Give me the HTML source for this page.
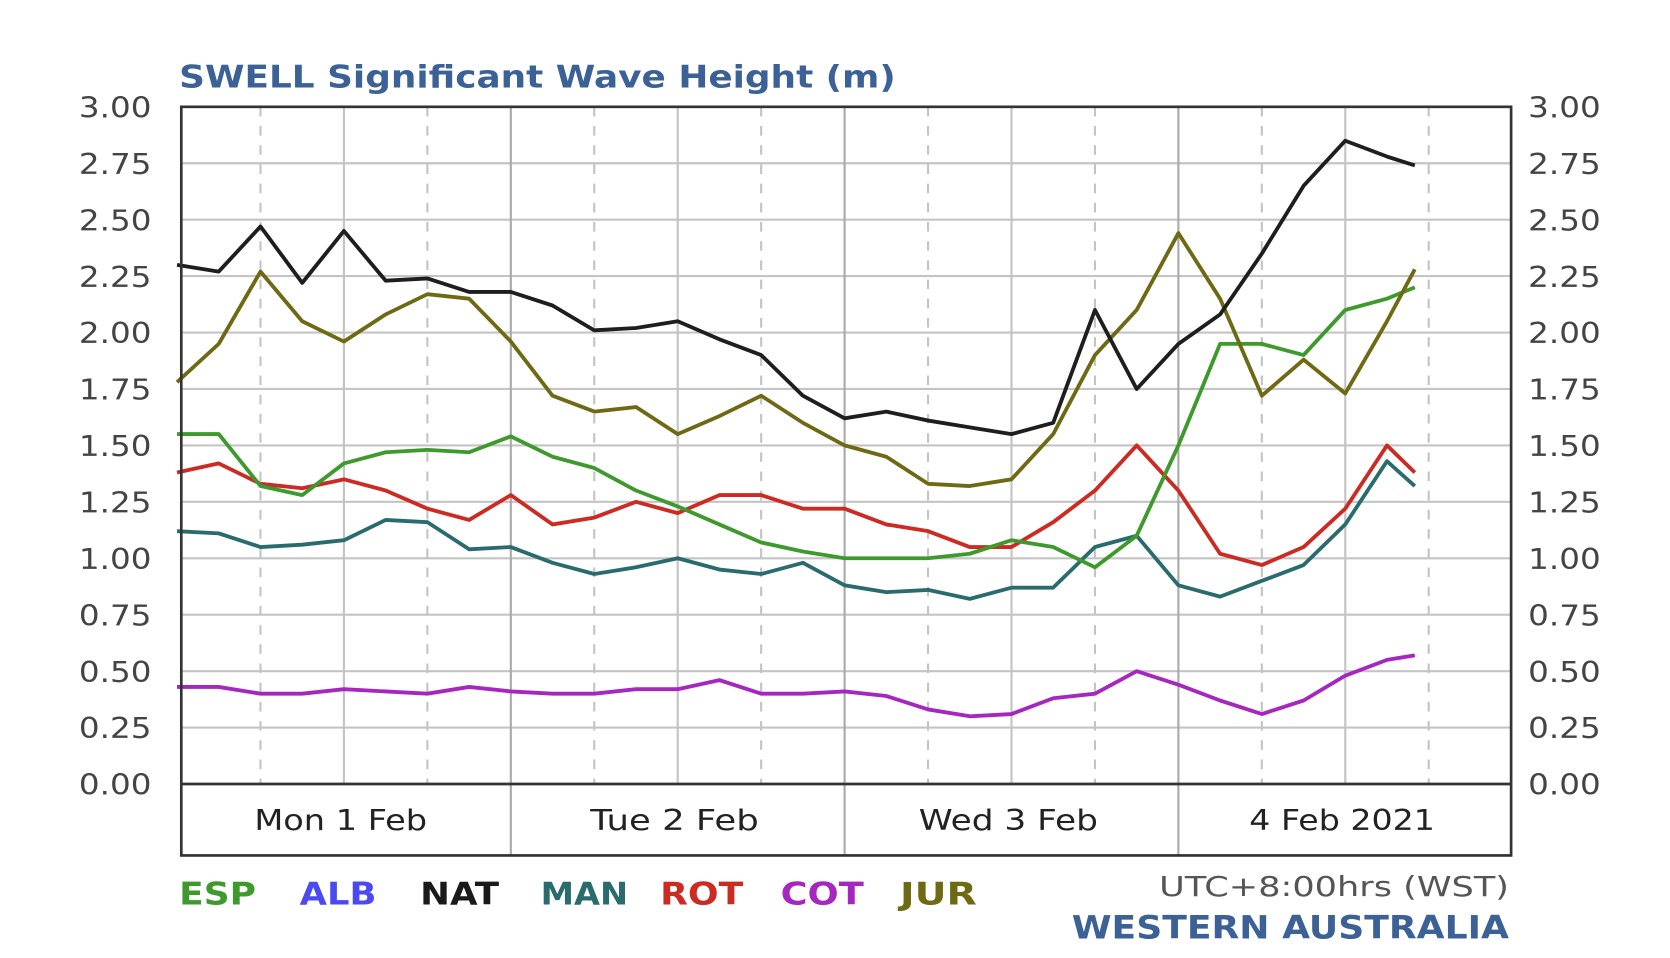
<!DOCTYPE html>
<html><head><meta charset="utf-8"><style>
html,body{margin:0;padding:0;background:#fff;}
svg{display:block;font-family:"DejaVu Sans","Liberation Sans",sans-serif;}
</style></head><body>
<svg id="chart" width="1670" height="958" viewBox="0 0 1566 898" xmlns="http://www.w3.org/2000/svg">
<text x="168" y="82" font-size="29" font-weight="bold" fill="#3b6196" textLength="672" lengthAdjust="spacingAndGlyphs">SWELL Significant Wave Height (m)</text>
<g id="grid"></g>
<g id="lines"></g>
<g id="axes"></g>
<text x="168" y="848" font-size="29" font-weight="bold" fill="#3e9a2c" textLength="72" lengthAdjust="spacingAndGlyphs">ESP</text>
<text x="281" y="848" font-size="29" font-weight="bold" fill="#4a4af0" textLength="72" lengthAdjust="spacingAndGlyphs">ALB</text>
<text x="394" y="848" font-size="29" font-weight="bold" fill="#1a1a1a" textLength="74" lengthAdjust="spacingAndGlyphs">NAT</text>
<text x="507" y="848" font-size="29" font-weight="bold" fill="#2a6b6e" textLength="82" lengthAdjust="spacingAndGlyphs">MAN</text>
<text x="619" y="848" font-size="29" font-weight="bold" fill="#cc2a22" textLength="78" lengthAdjust="spacingAndGlyphs">ROT</text>
<text x="732" y="848" font-size="29" font-weight="bold" fill="#a626c0" textLength="78" lengthAdjust="spacingAndGlyphs">COT</text>
<text x="844" y="848" font-size="29" font-weight="bold" fill="#6e6a14" textLength="72" lengthAdjust="spacingAndGlyphs">JUR</text>
<text x="1415" y="840" font-size="26" fill="#555" text-anchor="end" textLength="328" lengthAdjust="spacingAndGlyphs">UTC+8:00hrs (WST)</text>
<text x="1415" y="880" font-size="30" font-weight="bold" fill="#3b6196" text-anchor="end" textLength="410" lengthAdjust="spacingAndGlyphs">WESTERN AUSTRALIA</text>
</svg>
<script>
const hours=[0,3,6,9,12,15,18,21,24,27,30,33,36,39,42,45,48,51,54,57,60,63,66,69,72,75,78,81,84,87,89];
const esp=[1.55,1.55,1.32,1.28,1.42,1.47,1.48,1.47,1.54,1.45,1.40,1.30,1.23,1.15,1.07,1.03,1.00,1.00,1.00,1.02,1.08,1.05,0.96,1.10,1.50,1.95,1.95,1.90,2.10,2.15,2.20];
const nat=[2.30,2.27,2.47,2.22,2.45,2.23,2.24,2.18,2.18,2.12,2.01,2.02,2.05,1.97,1.90,1.72,1.62,1.65,1.61,1.58,1.55,1.60,2.10,1.75,1.95,2.08,2.35,2.65,2.85,2.78,2.74];
const man=[1.12,1.11,1.05,1.06,1.08,1.17,1.16,1.04,1.05,0.98,0.93,0.96,1.00,0.95,0.93,0.98,0.88,0.85,0.86,0.82,0.87,0.87,1.05,1.10,0.88,0.83,0.90,0.97,1.15,1.43,1.32];
const rot=[1.38,1.42,1.33,1.31,1.35,1.30,1.22,1.17,1.28,1.15,1.18,1.25,1.20,1.28,1.28,1.22,1.22,1.15,1.12,1.05,1.05,1.16,1.30,1.50,1.30,1.02,0.97,1.05,1.22,1.50,1.38];
const cot=[0.43,0.43,0.40,0.40,0.42,0.41,0.40,0.43,0.41,0.40,0.40,0.42,0.42,0.46,0.40,0.40,0.41,0.39,0.33,0.30,0.31,0.38,0.40,0.50,0.44,0.37,0.31,0.37,0.48,0.55,0.57];
const jur=[1.78,1.95,2.27,2.05,1.96,2.08,2.17,2.15,1.96,1.72,1.65,1.67,1.55,1.63,1.72,1.60,1.50,1.45,1.33,1.32,1.35,1.55,1.90,2.10,2.44,2.15,1.72,1.88,1.73,2.05,2.28];
const yTicks=[0,0.25,0.5,0.75,1,1.25,1.5,1.75,2,2.25,2.5,2.75,3];
const dayLabels=["Mon 1 Feb","Tue 2 Feb","Wed 3 Feb","4 Feb 2021"];

const NS="http://www.w3.org/2000/svg";
const L=170,R=1417,T=100,B=735,BAND=802,X0=166,DAY=313;
const xs=h=>X0+h*DAY/24;
const ys=v=>B-(v/3)*(B-T);
function mk(parent,tag,attrs){const e=document.createElementNS(NS,tag);for(const k in attrs)e.setAttribute(k,attrs[k]);document.getElementById(parent).appendChild(e);return e;}

yTicks.forEach(v=>{
  const y=ys(v);
  const g=mk('grid','line',{x1:L,x2:R,y1:y,y2:y,stroke:'#c4c4c4','stroke-width':2});
  
  
  const t1=mk('axes','text',{x:142,y:y+10,'font-size':27,fill:'#444','text-anchor':'end',textLength:68,lengthAdjust:'spacingAndGlyphs'});
  t1.textContent=v.toFixed(2);
  
  
  const t2=mk('axes','text',{x:1433,y:y+10,'font-size':27,fill:'#444',textLength:68,lengthAdjust:'spacingAndGlyphs'});
  t2.textContent=v.toFixed(2);
  
  
});
for(let h=6;h<96;h+=6){
  const x=xs(h); if(x>=R-2) break;
  const dashed=(h%12)!==0;
  const day=(h%24)===0;
  const g=mk('grid','line',{x1:x,x2:x,y1:T,y2:day?BAND:B,stroke:day?'#aaa':'#c4c4c4','stroke-width':2});
  if(dashed)g.setAttribute('stroke-dasharray','9,9');
  
  
}
const dayW=[162,158,168,174];
dayLabels.forEach((d,i)=>{
  const t=mk('axes','text',{x:xs(i*24+12)-3,y:778,'font-size':27,fill:'#222','text-anchor':'middle',textLength:dayW[i],lengthAdjust:'spacingAndGlyphs'});
  t.textContent=d;
  
  
});
const fr=mk('axes','rect',{x:L,y:T,width:R-L,height:BAND-T,fill:'none',stroke:'#333','stroke-width':2.5});


const ax=mk('axes','line',{x1:L,x2:R,y1:B,y2:B,stroke:'#333','stroke-width':2.5});



function series(vals,color,name){
  const d=vals.map((v,i)=>(i?'L':'M')+xs(hours[i]).toFixed(1)+','+ys(v).toFixed(1)).join(' ');
  const p=mk('lines','path',{d:d,fill:'none',stroke:color,'stroke-width':3.6,'stroke-linejoin':'round'});
  
  
}
series(cot,'#a626c0','series-cot');
series(man,'#2a6b6e','series-man');
series(rot,'#cc2a22','series-rot');
series(esp,'#3e9a2c','series-esp');
series(jur,'#6e6a14','series-jur');
series(nat,'#1e1e1e','series-nat');
</script>
</body></html>
